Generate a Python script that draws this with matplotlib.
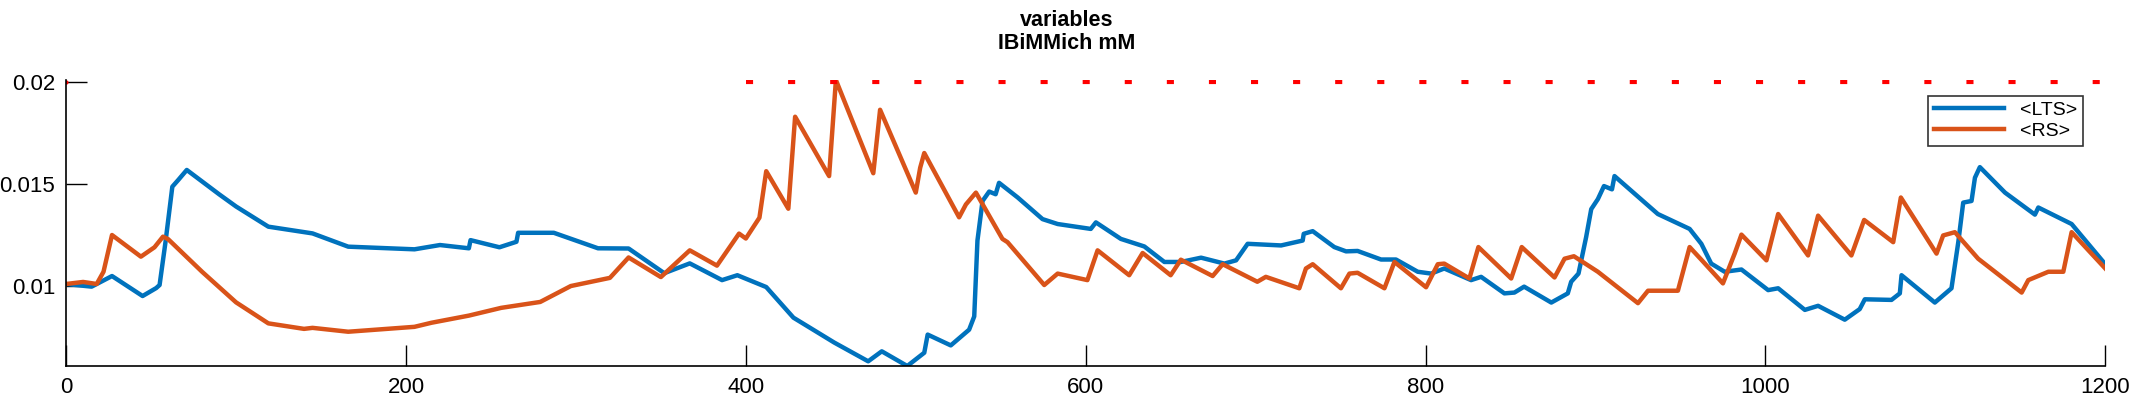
import matplotlib
matplotlib.use("Agg")
import matplotlib.pyplot as plt
import numpy as np

plt.rcParams['font.family'] = ['Liberation Sans', 'DejaVu Sans']

# <LTS> trace (time, value)
lts_t = [0, 15, 27, 45, 53, 55, 58.5, 62.5, 66, 71, 90, 100, 119, 145, 166, 205, 220, 237, 238,
         255, 265, 266, 287, 313, 331, 352, 367, 386, 395, 412, 428, 452, 472, 480, 495, 505, 507,
         520.6, 531.4, 534.4, 536.3, 539.3, 543.2, 547, 549, 560, 574.6, 583.5, 603, 606, 620.7,
         634.5, 646.3, 656, 667.9, 681.6, 688.5, 695.3, 715, 727.7, 728.3, 733.6, 746.3, 753.2,
         760, 773.8, 782.6, 795.4, 803.3, 811, 826.8, 832.7, 846.4, 852.3, 858, 874, 883.7, 885.7,
         890, 894.5, 897.5, 901.4, 905, 909.7, 911.2, 936.7, 955.4, 962.3, 968.1, 976, 985.9,
         1001.6, 1007.5, 1023.2, 1031, 1046.7, 1055.5, 1058.5, 1074.2, 1079.1, 1080.1, 1099.7,
         1109.5, 1113.5, 1116.4, 1121.3, 1123.3, 1126.2, 1141, 1158.6, 1160.6, 1180.2, 1200]
lts_v = [0.0101, 0.00997, 0.01049, 0.00951, 0.0099, 0.01005, 0.01217, 0.01487, 0.0152, 0.01569,
         0.0145, 0.0139, 0.01291, 0.01258, 0.01193, 0.0118, 0.01201, 0.01185, 0.01225, 0.0119,
         0.01217, 0.01261, 0.01261, 0.01185, 0.01184, 0.01063, 0.01111, 0.01029, 0.01053, 0.00995,
         0.00845, 0.00723, 0.00631, 0.0068, 0.00608, 0.00673, 0.00762, 0.00709, 0.00786, 0.00851,
         0.01223, 0.01417, 0.01463, 0.0145, 0.01506, 0.01434, 0.01328, 0.01304, 0.0128, 0.01312,
         0.01231, 0.01194, 0.01118, 0.01118, 0.01139, 0.0111, 0.01126, 0.01207, 0.01199, 0.01223,
         0.01256, 0.01269, 0.01191, 0.0117, 0.01172, 0.0113, 0.0113, 0.0107, 0.01061, 0.01086,
         0.01029, 0.01045, 0.00964, 0.00968, 0.00997, 0.00919, 0.00964, 0.01021, 0.01061, 0.0124,
         0.01377, 0.01426, 0.0149, 0.01474, 0.01539, 0.01353, 0.0128, 0.01207, 0.0111, 0.0107,
         0.01081, 0.0098, 0.00989, 0.00883, 0.00903, 0.00835, 0.00887, 0.00935, 0.00932, 0.00964,
         0.01053, 0.00919, 0.00989, 0.01215, 0.01409, 0.01417, 0.01531, 0.01583, 0.01458, 0.0135,
         0.01385, 0.01304, 0.01107]

# <RS> trace
rs_t = [0, 10, 18, 22, 27, 44, 52, 57, 60, 80, 100, 119, 140, 145, 166, 205, 215, 237, 256, 279,
        297, 320, 331, 350, 367, 383, 396, 400, 408, 412, 425, 429, 449, 453, 475, 479, 500, 502.6,
        505, 525.5, 529.5, 535.4, 551, 554, 575.6, 583.5, 601, 607, 625.6, 633.5, 650, 656, 674.7,
        680.6, 701, 706, 725.7, 729.6, 733.6, 750.2, 755.2, 760, 775.8, 781.7, 800.3, 807.2, 811,
        825.8, 831.1, 850.4, 856.6, 875.9, 881.8, 887.3, 901.4, 925, 930.9, 948.5, 955.4, 962.3,
        975, 981.9, 985.9, 1000.6, 1007.5, 1025.1, 1031, 1050.6, 1058.1, 1075.2, 1079.7, 1100.7,
        1104.6, 1111.5, 1125.2, 1150.8, 1154.7, 1166.5, 1175.3, 1180.2, 1200]
rs_v = [0.0101, 0.0102, 0.0101, 0.0107, 0.0125, 0.01144, 0.0119, 0.01242, 0.0123, 0.0107, 0.0092,
        0.00817, 0.0079, 0.00795, 0.00776, 0.008, 0.0082, 0.00855, 0.00893, 0.00922, 0.0100,
        0.0104, 0.0114, 0.01044, 0.01175, 0.0110, 0.01257, 0.01233, 0.01335, 0.01563, 0.01379,
        0.0183, 0.01539, 0.0201, 0.01553, 0.01864, 0.01458, 0.0158, 0.01652, 0.01337, 0.014,
        0.01458, 0.01231, 0.01215, 0.01005, 0.01061, 0.01029, 0.01175, 0.01053, 0.01162, 0.01053,
        0.01129, 0.01049, 0.01107, 0.01021, 0.01045, 0.00989, 0.01086, 0.01107, 0.00989, 0.01061,
        0.01065, 0.00989, 0.01118, 0.00994, 0.01107, 0.0111, 0.01037, 0.01191, 0.01037, 0.01191,
        0.01042, 0.01134, 0.01146, 0.0107, 0.00916, 0.00977, 0.00977, 0.01191, 0.01129, 0.01013,
        0.01159, 0.01252, 0.01126, 0.01353, 0.0115, 0.01345, 0.0115, 0.01324, 0.01215, 0.01434,
        0.01159, 0.01248, 0.01264, 0.01134, 0.00968, 0.01029, 0.0107, 0.0107, 0.01264, 0.01086]

thr_t = [400, 1200]
thr_v = [0.02, 0.02]

fig = plt.figure(figsize=(21.33, 4), dpi=100)
ax = fig.add_axes([0.031, 0.085, 0.956, 0.715])

ax.plot(lts_t, lts_v, color="#0072BD", lw=3.2, label="<LTS>")
ax.plot(rs_t, rs_v, color="#D95319", lw=3.2, label="<RS>")
ax.plot(thr_t, thr_v, color="red", lw=3, dashes=[1.7, 8.4], solid_capstyle="butt")
ax.plot([0], [0.02], 'o', color="red", ms=2)

ax.set_xlim(0, 1200)
ax.set_ylim(0.00608, 0.0201)
ax.set_xticks(np.arange(0, 1201, 200))
ax.set_yticks([0.01, 0.015, 0.02])
ax.set_yticklabels(["0.01", "0.015", "0.02"])
ax.tick_params(direction="in", length=15, width=1, labelsize=16, pad=8)
for s in ["top", "right"]:
    ax.spines[s].set_visible(False)
for s in ["left", "bottom"]:
    ax.spines[s].set_linewidth(1.2)

fig.text(0.5, 0.975, "variables\nIBiMMich mM", ha="center", va="top", fontsize=15.5,
         fontweight="bold", linespacing=1.15)

leg = ax.legend(loc="upper right", bbox_to_anchor=(0.989, 0.945), fontsize=14, frameon=True,
                fancybox=False, edgecolor="black", handlelength=3.6, borderpad=0.3,
                labelspacing=0.15, borderaxespad=0)
leg.get_frame().set_linewidth(1.2)

fig.savefig("out.png", dpi=100)
